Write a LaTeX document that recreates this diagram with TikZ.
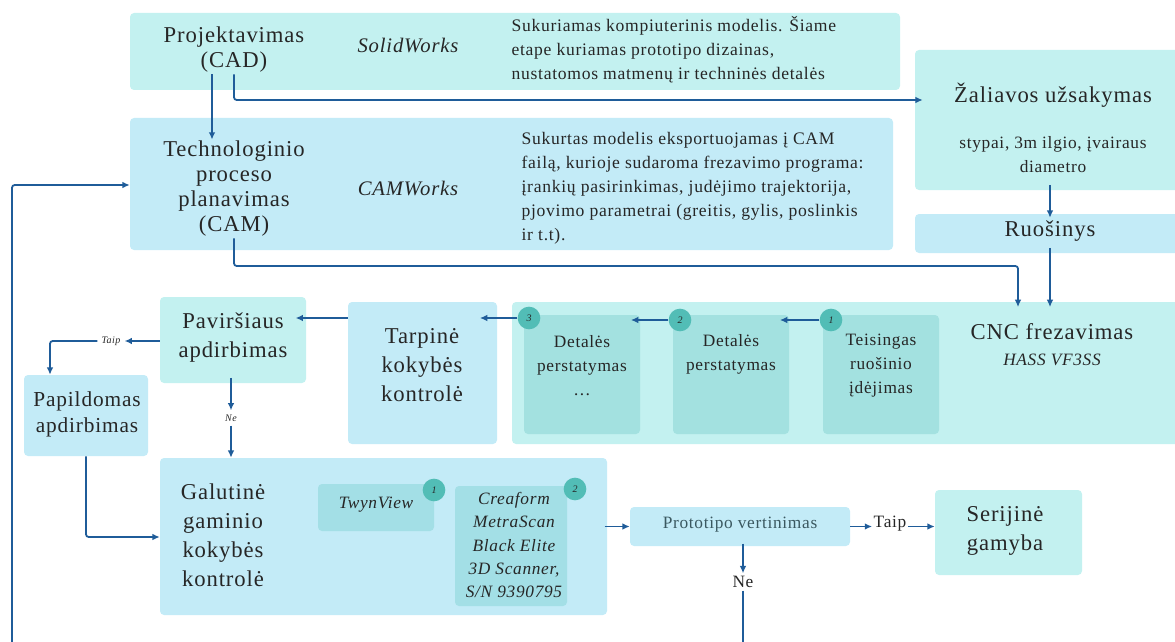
\documentclass[tikz,border=0pt]{standalone}
\usepackage{fontspec}
\setmainfont[LetterSpace=4]{Liberation Serif}
\usetikzlibrary{arrows.meta,fit}
\definecolor{cyanbg}{HTML}{C3F1F0}
\definecolor{bluebg}{HTML}{C3EBF7}
\definecolor{tealbg}{HTML}{A3E1E0}
\definecolor{tealb2}{HTML}{A3DFE6}
\definecolor{badgec}{HTML}{52BDB6}
\definecolor{arrowc}{HTML}{1F5C99}
\definecolor{txt}{HTML}{262626}
\definecolor{txt2}{HTML}{3A5860}
\begin{document}
\begin{tikzpicture}[x=0.75pt,y=-0.75pt,
  box/.style={inner sep=0pt, rounded corners=3pt, draw=none},
  cbox/.style={box, fill=cyanbg},
  bbox/.style={box, fill=bluebg},
  tbox/.style={box, fill=tealbg},
  tbox2/.style={box, fill=tealb2},
  big/.style={font=\fontsize{17}{18.75}\selectfont, align=center, text=txt, inner sep=1pt},
  bigw/.style={font=\fontsize{17}{21.75}\selectfont, align=center, text=txt, inner sep=1pt},
  desc/.style={font=\fontsize{13.2}{18}\selectfont, align=left, text=txt, inner sep=1pt},
  descc/.style={font=\fontsize{13}{18}\selectfont, align=center, text=txt, inner sep=1pt},
  tool/.style={font=\fontsize{13}{17.6}\selectfont\itshape, align=center, text=txt, inner sep=1pt},
  toolbig/.style={font=\fontsize{15.5}{18}\selectfont\itshape, align=center, text=txt, inner sep=1pt},
  tiny/.style={font=\fontsize{7.5}{9}\selectfont\itshape, text=txt, inner sep=3pt},
  badge/.style={circle, fill=badgec, minimum size=17pt, inner sep=0pt, font=\fontsize{7.5}{8}\selectfont\itshape, text=txt},
  ln/.style={draw=arrowc, line width=1.35pt, rounded corners=2pt},
  arr/.style={ln, -{Latex[length=5.5pt,width=5pt]}}
]
\useasboundingbox (0,0) rectangle (1175,642);

% boxes
\node[cbox, fit={(130,13) (900,90)}] (A) {};
\node[bbox, fit={(130,118) (893,250)}] (B) {};
\node[cbox, fit={(915,50) (1185,190)}] (C) {};
\node[bbox, fit={(915,214) (1185,253)}] (D) {};
\node[cbox, fit={(512,302) (1185,444)}] (E) {};
\node[tbox, fit={(823,315) (939,434)}] (T1) {};
\node[tbox, fit={(673,315) (789,434)}] (T2) {};
\node[tbox, fit={(524,315) (640,434)}] (T3) {};
\node[bbox, fit={(348,302) (497,444)}] (F) {};
\node[cbox, fit={(160,297) (306,383)}] (G) {};
\node[bbox, fit={(24,375) (148,456)}] (P) {};
\node[bbox, fit={(160,458) (607,615)}] (H) {};
\node[tbox2, fit={(318,484) (434,531)}] (TW) {};
\node[tbox2, fit={(455,486) (567,606)}] (CR) {};
\node[bbox, fit={(630,507) (850,546)}] (PV) {};
\node[cbox, fit={(935,490) (1082,575)}] (S) {};

% badges
\node[badge] (b1) at (831,320) {1};
\node[badge] (b2) at (680,320) {2};
\node[badge] (b3) at (529,318) {3};
\node[badge] (bt1) at (434,490) {1};
\node[badge] (bt2) at (575,489) {2};

% texts
\node[big] (tA) at (234,50) {Projektavimas\\(CAD)};
\node[toolbig] (sw) at (408,45) {SolidWorks};
\node[desc, anchor=west] (dA) at (510,50) {Sukuriamas kompiuterinis modelis. Šiame\\etape kuriamas prototipo dizainas,\\nustatomos matmenų ir techninės detalės};
\node[big] (tB) at (234,189) {Technologinio\\proceso\\planavimas\\(CAM)};
\node[toolbig] (cw) at (408,188) {CAMWorks};
\node[desc, anchor=west] (dB) at (520,188) {Sukurtas modelis eksportuojamas į CAM\\failą, kurioje sudaroma frezavimo programa:\\įrankių pasirinkimas, judėjimo trajektorija,\\pjovimo parametrai (greitis, gylis, poslinkis\\ir t.t).};
\node[big] (tC) at (1053,95) {Žaliavos užsakymas};
\node[descc] (sC) at (1053,155) {stypai, 3m ilgio, įvairaus\\diametro};
\node[big] (tD) at (1050,231) {Ruošinys};
\node[big] (tE) at (1052,332) {CNC frezavimas};
\node[tool] (hass) at (1052,360) {HASS VF3SS};
\node[descc] (tT1) at (881,366) {Teisingas\\ruošinio\\įdėjimas};
\node[descc] (tT2) at (731,354) {Detalės\\perstatymas};
\node[descc] (tT3) at (582,366) {Detalės\\perstatymas\\\dots};
\node[bigw] (tF) at (422,365) {Tarpinė\\kokybės\\kontrolė};
\node[bigw] (tG) at (233,338) {Paviršiaus\\apdirbimas};
\node[font=\fontsize{16}{19.5}\selectfont, align=center, text=txt, inner sep=1pt] (tP) at (87,414) {Papildomas\\apdirbimas};
\node[bigw] (tH) at (223,535) {Galutinė\\gaminio\\kokybės\\kontrolė};
\node[tool] (tTW) at (376,505) {TwynView};
\node[tool] (tCR) at (514,545) {Creaform\\MetraScan\\Black Elite\\3D Scanner,\\S/N 9390795};
\node[font=\fontsize{13}{16}\selectfont, text=txt2, inner sep=1pt] (tPV) at (740,525) {Prototipo vertinimas};
\node[font=\fontsize{13}{16}\selectfont, text=txt, inner sep=1pt] (taip2) at (890,524) {Taip};
\node[font=\fontsize{13}{16}\selectfont, text=txt, inner sep=2pt] (ne2) at (743,582) {Ne};
\node[bigw] (tS) at (1005,531) {Serijinė\\gamyba};
\node[tiny] (taip1) at (111,341) {Taip};
\node[tiny] (ne1) at (231,418) {Ne};

\coordinate (fb) at (12,650);
\coordinate (down) at (743,650);

% connectors
\draw[arr] (212,0 |- tA.south) -- (212,0 |- tB.north);
\draw[arr, shorten >=-6pt] (234,0 |- tA.south) |- (C.west |- 0,100);
\draw[arr, shorten >=-4pt] (234,0 |- tB.south) |- (1018,266) -- (1018,0 |- E.north);
\draw[arr, shorten <=-4pt, shorten >=-3pt] (1050,0 |- C.south) -- (1050,0 |- D.north);
\draw[arr, shorten <=-4pt, shorten >=-4pt] (1050,0 |- D.south) -- (1050,0 |- E.north);
\draw[arr, shorten >=-7pt] (b1.west) -- (T2.east |- b1.west);
\draw[arr, shorten >=-7pt] (b2.west) -- (T3.east |- b2.west);
\draw[arr, shorten >=-13pt] (b3.west) -- (F.east |- b3.west);
\draw[arr, shorten >=-8pt] (F.west |- 0,318) -- (G.east |- 0,318);
\draw[arr] (G.west |- 0,341) -- (taip1.east);
\draw[arr] (taip1.west) -| (P.north -| 50,0);
\draw[arr, shorten <=-4pt] (231,0 |- G.south) -- (ne1.north);
\draw[arr] (ne1.south) -- (231,0 |- H.north);
\draw[arr] (86,0 |- P.south) |- (H.west |- 0,537);
\draw[arr, shorten <=-2pt] (H.east |- PV.west) -- (PV.west);
\draw[arr] (PV.east) -- (taip2.west |- PV.east);
\draw[arr] (taip2.east |- PV.east) -- (S.west |- PV.east);
\draw[arr, shorten <=-2pt] (743,0 |- PV.south) -- (ne2.north);
\draw[ln] (ne2.south) -- (down);
\draw[arr] (fb) |- (B.west |- 0,185);
\end{tikzpicture}
\end{document}
